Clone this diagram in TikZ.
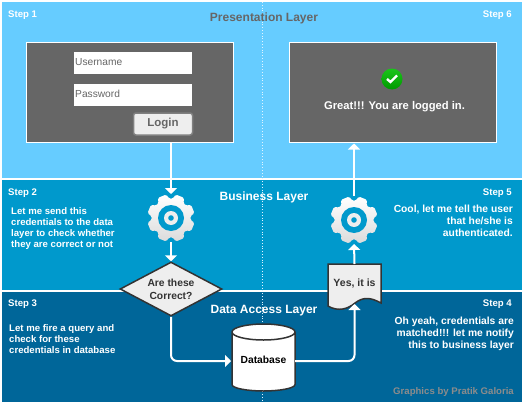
\documentclass[tikz,border=0pt]{standalone}
\usepackage{fontspec}
\setmainfont{Liberation Sans}
\usepackage{tikz}
\usetikzlibrary{arrows.meta,shapes.geometric}
\definecolor{presentblue}{HTML}{66CCFF}
\definecolor{businessblue}{HTML}{0099CC}
\definecolor{datablue}{HTML}{006699}
\definecolor{panelgrey}{HTML}{666666}
\definecolor{shapegrey}{HTML}{EEEEEE}
\definecolor{edgegrey}{HTML}{333333}

\begin{document}
\begin{tikzpicture}[x=1pt,y=-1pt,
    band/.style={minimum width=520pt,inner sep=0pt,outer sep=0pt},
    panel/.style={fill=panelgrey,draw=white,line width=1pt,minimum width=207pt,minimum height=99pt,inner sep=0pt},
    fieldbox/.style={fill=white,minimum width=118pt,minimum height=22pt,inner sep=0pt},
    fieldtext/.style={text=panelgrey,font=\fontsize{10.2}{11}\selectfont,anchor=west,inner sep=0pt},
    steplabel/.style={text=white,font=\bfseries\fontsize{9.6}{11}\selectfont,inner sep=0pt},
    notetext/.style={text=white,font=\bfseries\fontsize{9.6}{11}\selectfont,inner sep=0pt},
    sidenote/.style={notetext,anchor=north east,align=right,font=\bfseries\fontsize{10.3}{12}\selectfont},
    layertitle/.style={font=\bfseries\fontsize{12}{13}\selectfont,inner sep=0pt},
    gearspot/.style={circle,minimum size=48pt,inner sep=0pt,outer sep=0pt},
    flowshape/.style={fill=shapegrey,draw=edgegrey,line width=1.5pt,text=edgegrey,font=\bfseries\fontsize{10.3}{13}\selectfont,align=center,inner sep=0pt},
    flowarrow/.style={draw=white,line width=2pt,rounded corners=6pt,-{Triangle[width=12pt,length=6pt]}},
    gearicon/.pic={
        \shade[top color=white,bottom color=black!14,rounded corners=1.5pt] (0:19.5)
            \foreach \a in {22.5,67.5,...,337.5} { -- (\a-17:19.5) -- (\a-11:24) -- (\a+11:24) -- (\a+17:19.5) } -- cycle;
        \fill[businessblue] (0,0) circle (13);
        \fill[shapegrey] (0,0) circle (7);
        \fill[businessblue] (0,0) circle (2.8);
    }]
    \useasboundingbox (0,0) rectangle (524,404);
    \fill[white] (0,0) rectangle (524,404);

    \node[band,fill=presentblue,minimum height=176pt] (presentlayer) at (262,90) {};
    \node[band,fill=businessblue,minimum height=110pt] (businesslayer) at (262,235) {};
    \node[band,fill=datablue,minimum height=110pt] (datalayer) at (262,347) {};
    \draw[white!80!presentblue,dotted,line width=0.8pt] (presentlayer.north) -- (datalayer.south);

    \node[layertitle,text=panelgrey] (presenttitle) at (264,18) {Presentation Layer};
    \node[layertitle,text=white] (businesstitle) at (264,197) {Business Layer};
    \node[layertitle,text=white] (datatitle) at (264,311) {Data Access Layer};

    \node[steplabel,anchor=west] (stepone) at (8,15) {Step 1};
    \node[steplabel,anchor=west] (steptwo) at (8,193) {Step 2};
    \node[steplabel,anchor=west] (stepthree) at (8,304) {Step 3};
    \node[steplabel,anchor=east] (stepfour) at (512,304) {Step 4};
    \node[steplabel,anchor=east] (stepfive) at (512,193) {Step 5};
    \node[steplabel,anchor=east] (stepsix) at (512,15) {Step 6};

    \node[notetext,anchor=north west,align=left] (notetwo) at (11,207) {Let me send this\\credentials to the data\\layer to check whether\\they are correct or not};
    \node[notetext,anchor=north west,align=left] (notethree) at (9,324) {Let me fire a query and\\check for these\\credentials in database};
    \node[sidenote] (notefour) at (514,317) {Oh yeah, credentials are\\matched!!! let me notify\\this to business layer};
    \node[sidenote] (notefive) at (513,205) {Cool, let me tell the user\\that he/she is\\authenticated.};
    \node[anchor=east,inner sep=0pt,text=black!45,font=\bfseries\fontsize{9.6}{11}\selectfont] (creditline) at (514,392) {Graphics by Pratik Galoria};

    \node[panel] (loginpanel) at (129.5,92.5) {};
    \node[fieldbox] (userbox) at (133,63) {};
    \node[fieldbox] (passbox) at (133,95) {};
    \node[fieldtext] (usertext) at (75,62) {Username};
    \node[fieldtext] (passtext) at (75,94) {Password};
    \node[fill=shapegrey,draw=black!50,line width=1.5pt,rounded corners=2.5pt,minimum width=59pt,minimum height=22pt,inner sep=0pt,text=panelgrey,font=\bfseries\fontsize{11.5}{13}\selectfont] (loginbutton) at (163,124) {Login};

    \node[panel] (successpanel) at (392.5,92.5) {};
    \node[circle,minimum size=21pt,inner sep=0pt,top color=green!75!black!90,bottom color=green!60!black] (checkicon) at (392,79) {};
    \draw[white,line width=2.4pt] ([xshift=-5pt,yshift=0pt]checkicon.center) -- ([xshift=-1.5pt,yshift=-3pt]checkicon.center) -- ([xshift=5pt,yshift=3.5pt]checkicon.center);
    \node[inner sep=0pt,text=white,font=\bfseries\fontsize{11.2}{12}\selectfont] (successtext) at (394.5,107) {Great!!! You are logged in.};

    \node[gearspot] (gearone) at (171,218) {};
    \node[gearspot] (geartwo) at (354,220) {};
    \node[flowshape,diamond,minimum width=102pt,minimum height=54pt,aspect=1.9] (question) at (171,289) {Are these\\Correct?};
    \node[minimum width=63pt,minimum height=67pt,inner sep=0pt,outer sep=0pt] (database) at (263.5,357.5) {};
    \draw[flowshape,fill=white,shift={(database.center)}] (-31.5,-25.5) -- (-31.5,27) .. controls (-31.5,31) and (-15,33.5) .. (0,33.5)
        .. controls (15,33.5) and (31.5,31) .. (31.5,27) -- (31.5,-25.5) .. controls (31.5,-30) and (17,-33.5) .. (0,-33.5)
        .. controls (-17,-33.5) and (-31.5,-30) .. (-31.5,-25.5) -- cycle
        (-31.5,-25.5) .. controls (-31.5,-21) and (-17,-17.5) .. (0,-17.5) .. controls (17,-17.5) and (31.5,-21) .. (31.5,-25.5);
    \node[inner sep=0pt,text=black,font=\bfseries\fontsize{10.3}{13}\selectfont] (databasetext) at (263.5,360) {Database};
    \node[minimum width=53pt,minimum height=40pt,inner sep=0pt,outer sep=0pt] (yesdoc) at (354.5,284) {};
    \draw[flowshape] (yesdoc.south west) ++(0,2.5) -- (yesdoc.north west) -- (yesdoc.north east) -- ++(0,39)
        .. controls ++(-11,-6) and ++(8,-6) .. ++(-26,0) .. controls ++(-7,6) and ++(10,6) .. ++(-27,3) -- cycle;
    \node[inner sep=0pt,text=edgegrey,font=\bfseries\fontsize{10.5}{11}\selectfont] (yestext) at (yesdoc.center) {Yes, it is};

    \draw[flowarrow] (gearone |- loginpanel.south) -- (gearone.north);
    \draw[flowarrow] (gearone.south) -- (question.north);
    \draw[flowarrow] (question.south) |- ([xshift=-1pt,yshift=-3.5pt]database.west);
    \draw[flowarrow] ([yshift=-3.5pt]database.east) -| (yesdoc.south);
    \draw[flowarrow] (yesdoc.north) -- (geartwo.south);
    \draw[flowarrow] (geartwo.north) -- ([yshift=-1pt]geartwo |- successpanel.south);

    \pic at (gearone.center) {gearicon};
    \pic at (geartwo.center) {gearicon};
\end{tikzpicture}
\end{document}
